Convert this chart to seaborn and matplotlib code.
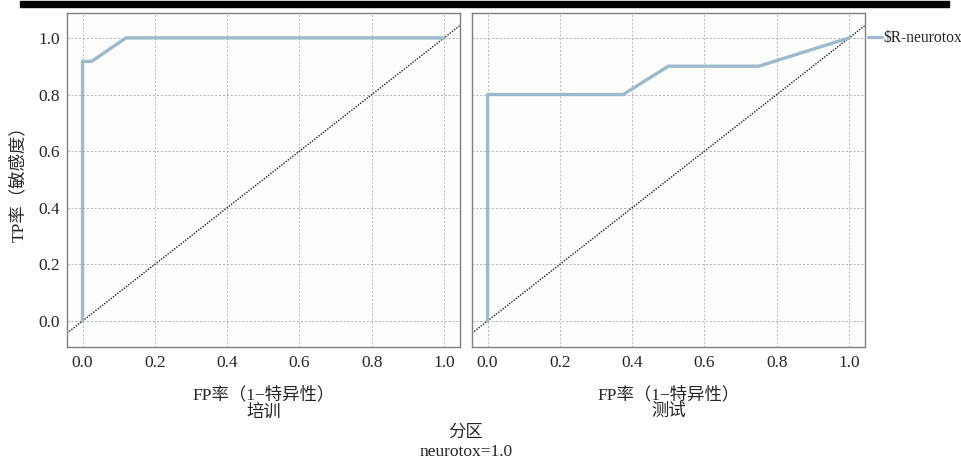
import numpy as np
import pandas as pd
import seaborn as sns
import matplotlib.pyplot as plt
from matplotlib.patches import Rectangle
from matplotlib.lines import Line2D

# ROC points
train_fpr = [0.0, 0.0, 0.025, 0.12, 1.0]
train_tpr = [0.0, 0.917, 0.917, 1.0, 1.0]
test_fpr = [0.0, 0.0, 0.375, 0.5, 0.75, 1.0]
test_tpr = [0.0, 0.8, 0.8, 0.9, 0.9, 1.0]
panels = ["培训", "测试"]
ticks = [0.0, 0.2, 0.4, 0.6, 0.8, 1.0]
series_name = "\\$R-neurotox"

sns.set_style("white")
plt.rcParams['font.family'] = ['Liberation Serif', 'Noto Sans CJK SC', 'DejaVu Sans']
plt.rcParams['axes.unicode_minus'] = False

line_col = "#9bbacd"
bg = "#fdfdfb"

fig = plt.figure(figsize=(9.62, 4.59), dpi=100)
fig.patch.set_facecolor("white")

data = [(train_fpr, train_tpr), (test_fpr, test_tpr)]
lefts = [67 / 962, 472 / 962]
for i, (name, (fx, ty)) in enumerate(zip(panels, data)):
    ax = fig.add_axes([lefts[i], 112 / 459, 393 / 962, 334 / 459])
    ax.set_facecolor(bg)
    df = pd.DataFrame({"fpr": fx, "tpr": ty})
    sns.lineplot(data=df, x="fpr", y="tpr", sort=False, estimator=None,
                 color=line_col, linewidth=2.4, ax=ax, zorder=3)
    ax.set_xlim(-0.043, 1.044)
    ax.set_ylim(-0.092, 1.088)
    ax.axline((0, 0), (1, 1), color="#222222", linestyle=(0, (1, 1)),
              linewidth=1.0, zorder=2)
    ax.set_xticks(ticks)
    ax.set_yticks(ticks)
    ax.set_xticklabels([f"{t:.1f}" for t in ticks], fontsize=12.5)
    ax.grid(True, axis="x", linestyle=(0, (2, 2)), color="#c0b4b4", linewidth=0.7)
    ax.grid(True, axis="y", linestyle=(0, (2, 2)), color="#b0b0b0", linewidth=0.7)
    ax.set_axisbelow(True)
    for s in ax.spines.values():
        s.set_color("#808080")
        s.set_linewidth(1.0)
    ax.tick_params(axis="x", length=3, width=0.8, color="#555555", pad=3)
    if i == 0:
        ax.set_yticklabels([f"{t:.1f}" for t in ticks], fontsize=12.5)
        ax.tick_params(axis="y", length=3, width=0.8, color="#555555", pad=2)
        ax.set_ylabel("TP率（敏感度）", fontsize=12.5, labelpad=8)
    else:
        ax.set_yticklabels([])
        ax.tick_params(axis="y", length=0)
        ax.set_ylabel("")
    ax.set_xlabel("FP率（1−特异性）\n" + name, fontsize=12.5, labelpad=11,
                  linespacing=1.05)

# legend
leg_handle = Line2D([0], [0], color=line_col, linewidth=2.4)
fig.legend([leg_handle], [series_name], loc="center left",
           bbox_to_anchor=(868 / 962, 1 - 38 / 459), frameon=False,
           fontsize=11.2, handlelength=0.9, handletextpad=0.1, borderaxespad=0,
           borderpad=0)

# bottom captions
fig.text(466 / 962, 1 - 433 / 459, "分区", ha="center", va="center", fontsize=12.5)
fig.text(466 / 962, 1 - 452 / 459, "neurotox=1.0", ha="center", va="center", fontsize=12.5)

# black bar on top
fig.add_artist(Rectangle((20 / 962, 1 - 6.5 / 459), 929 / 962, 5.5 / 459,
                         transform=fig.transFigure, color="black", zorder=10))

fig.savefig("out.png", dpi=100)
